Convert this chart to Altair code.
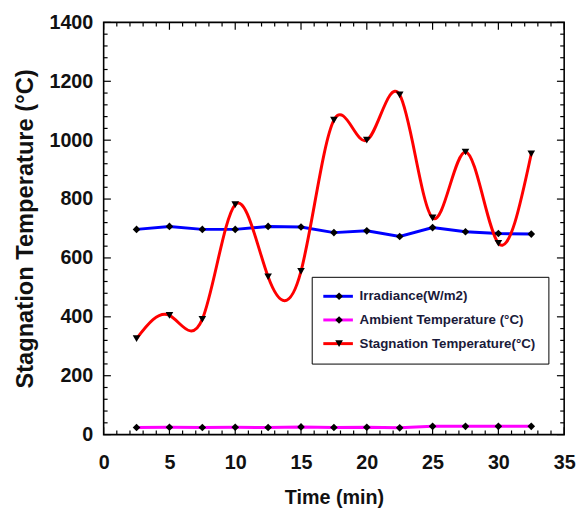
import altair as alt
import pandas as pd

# ---- data ----
time_min = [2.5, 5, 7.5, 10, 12.5, 15, 17.5, 20, 22.5, 25, 27.5, 30, 32.5]
irradiance = [697, 707, 697, 697, 707, 705, 686, 692, 673, 703, 689, 683, 681]
ambient = [24, 25, 24, 25, 24, 26, 24, 25, 23, 28, 28, 28, 28]
stagnation = [326, 405, 392, 781, 536, 555, 1068, 1000, 1154, 736, 960, 650, 954]

series_names = ["Irradiance(W/m2)", "Ambient Temperature (°C)", "Stagnation Temperature(°C)"]
series_colors = ["#0000ff", "#ff00ff", "#ff0000"]
series_shapes = ["diamond", "diamond", "triangle-down"]
marker_names = ["marker: " + n for n in series_names]

x_major = [0, 5, 10, 15, 20, 25, 30, 35]
x_minor = list(range(0, 36))
y_major = [0, 200, 400, 600, 800, 1000, 1200, 1400]
y_minor = list(range(0, 1401, 40))

X_DOM = [0, 35]
Y_DOM = [0, 1400]

rows = []
for name, mname, vals in zip(series_names, marker_names, [irradiance, ambient, stagnation]):
    for t, v in zip(time_min, vals):
        rows.append({"time": t, "value": v, "series": name, "marker": mname})
df = pd.DataFrame(rows)

# inward tick segments (lengths in data units)
xt_rows = []
for v in x_minor:
    L = 25 if v in x_major else 14
    xt_rows.append({"tx": v, "ty": Y_DOM[0], "ty2": Y_DOM[0] + L})
    xt_rows.append({"tx": v, "ty": Y_DOM[1], "ty2": Y_DOM[1] - L})
yt_rows = []
for v in y_minor:
    L = 0.55 if v in y_major else 0.3
    yt_rows.append({"ty": v, "tx": X_DOM[0], "tx2": X_DOM[0] + L})
    yt_rows.append({"ty": v, "tx": X_DOM[1], "tx2": X_DOM[1] - L})
xt_df = pd.DataFrame(xt_rows)
yt_df = pd.DataFrame(yt_rows)

FONT = "Liberation Sans, Arial"

x_axis = alt.Axis(values=x_major, ticks=False, domain=False, grid=False, format="d",
                  title="Time (min)", labelPadding=18, titlePadding=16,
                  labelFont=FONT, labelFontSize=20, labelFontWeight="bold",
                  titleFont=FONT, titleFontSize=20, titleFontWeight="bold",
                  labelColor="#111", titleColor="#111", labelFlush=False)
y_axis = alt.Axis(values=y_major, ticks=False, domain=False, grid=False, format="d",
                  title="Stagnation Temperature (°C)", labelPadding=11, titlePadding=12,
                  labelFont=FONT, labelFontSize=20, labelFontWeight="bold",
                  titleFont=FONT, titleFontSize=24, titleFontWeight="bold",
                  labelColor="#111", titleColor="#111", labelFlush=False)

xs = alt.Scale(domain=X_DOM, nice=False, zero=False)
ys = alt.Scale(domain=Y_DOM, nice=False, zero=False)

color_scale = alt.Scale(domain=series_names, range=series_colors)
shape_scale = alt.Scale(domain=marker_names, range=series_shapes)

LEG_X = 211
LEG_Y = 258

color_legend = alt.Legend(
    title=None, orient="none", legendX=LEG_X, legendY=LEG_Y,
    strokeColor="black", fillColor="white", padding=13,
    symbolType="M-3,0H3", symbolSize=100, symbolStrokeWidth=3, symbolOffset=7,
    labelOffset=15, labelFont=FONT, labelFontSize=13.5, labelFontWeight="bold",
    labelColor="#1a1a3a", rowPadding=9, labelLimit=400,
)
shape_legend = alt.Legend(
    title=None, orient="none", legendX=LEG_X, legendY=LEG_Y,
    padding=13, symbolSize=60, symbolOffset=8,
    symbolFillColor="black", symbolStrokeColor="black", symbolStrokeWidth=0,
    labelOffset=15, labelFont=FONT, labelFontSize=13.5, labelFontWeight="bold",
    labelExpr="' '", labelOpacity=0, rowPadding=9, labelLimit=400,
)

base = alt.Chart(df)

xtick_layer = alt.Chart(xt_df).mark_rule(color="black", strokeWidth=1.2).encode(
    x=alt.X("tx:Q", scale=xs, axis=x_axis),
    y=alt.Y("ty:Q", scale=ys, axis=y_axis),
    y2=alt.Y2("ty2:Q"),
)
ytick_layer = alt.Chart(yt_df).mark_rule(color="black", strokeWidth=1.2).encode(
    x=alt.X("tx:Q", scale=xs, axis=x_axis),
    x2=alt.X2("tx2:Q"),
    y=alt.Y("ty:Q", scale=ys, axis=y_axis),
)

lines_linear = base.transform_filter(
    alt.FieldOneOfPredicate(field="series", oneOf=series_names[:2])
).mark_line(strokeWidth=3, interpolate="linear").encode(
    x=alt.X("time:Q", scale=xs, axis=x_axis),
    y=alt.Y("value:Q", scale=ys, axis=y_axis),
    color=alt.Color("series:N", scale=color_scale, legend=color_legend),
)

line_spline = base.transform_filter(
    alt.FieldEqualPredicate(field="series", equal=series_names[2])
).mark_line(strokeWidth=3, interpolate="natural").encode(
    x=alt.X("time:Q", scale=xs, axis=x_axis),
    y=alt.Y("value:Q", scale=ys, axis=y_axis),
    color=alt.Color("series:N", scale=color_scale, legend=color_legend),
)

points = base.mark_point(filled=True, color="black", opacity=1, size=60).encode(
    x=alt.X("time:Q", scale=xs, axis=x_axis),
    y=alt.Y("value:Q", scale=ys, axis=y_axis),
    shape=alt.Shape("marker:N", scale=shape_scale, legend=shape_legend),
)

chart = alt.layer(xtick_layer, ytick_layer, lines_linear, line_spline, points).properties(
    width=576, height=512,
    autosize=alt.AutoSizeParams(type="fit", contains="padding"),
    padding={"left": 5, "top": 1, "right": 0, "bottom": 9},
    background="white",
).configure_view(stroke="black", strokeWidth=1.6)

chart.save("out.html", embed_options={"renderer": "svg", "actions": False})
